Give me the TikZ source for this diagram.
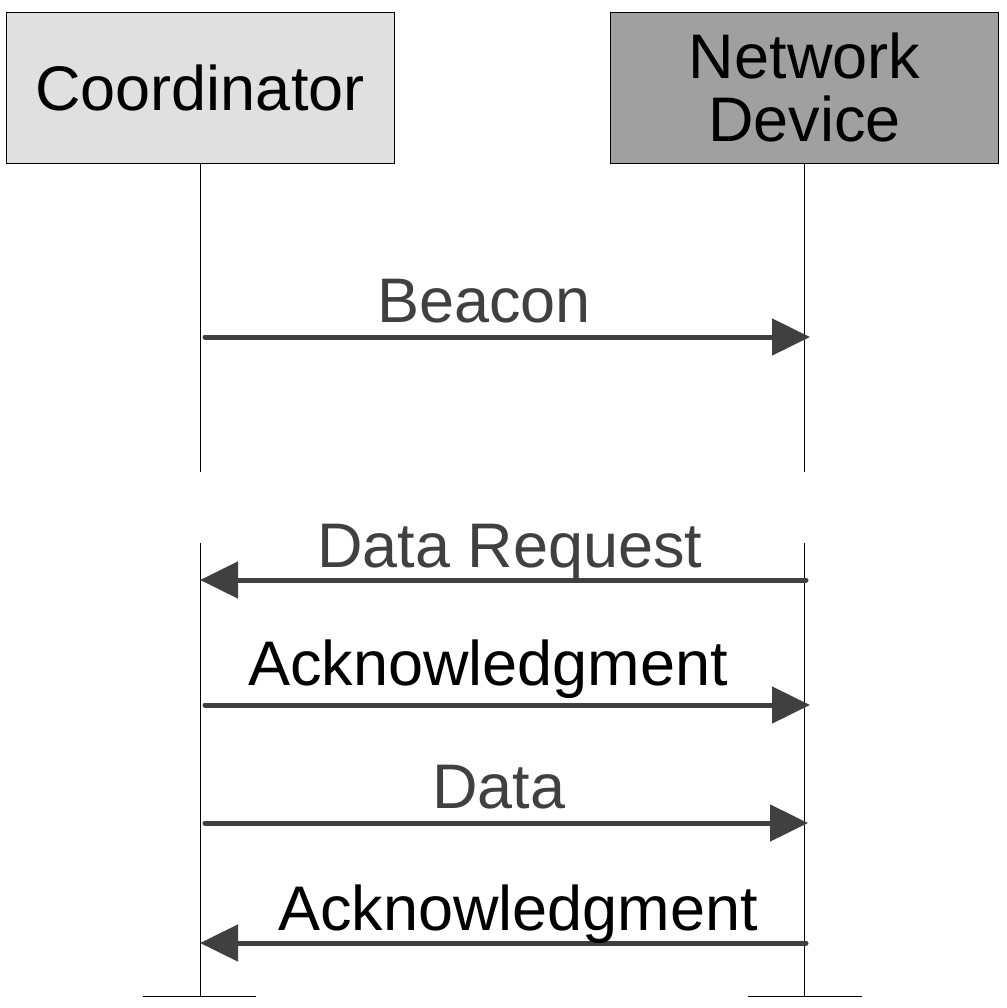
\documentclass[tikz,border=0pt]{standalone}
\usepackage{fontspec}
\setmainfont{Liberation Sans}
\usetikzlibrary{arrows.meta}
\definecolor{msg}{HTML}{404040}
\definecolor{boxA}{HTML}{E0E0E0}
\definecolor{boxB}{HTML}{A0A0A0}
\begin{document}
\begin{tikzpicture}[x=1pt,y=-1pt,
  actor/.style={draw=black,line width=0.8pt,minimum width=388pt,minimum height=151pt,inner sep=0pt,align=center,font=\fontsize{63}{63}\selectfont},
  life/.style={draw=black,line width=1pt},
  msgline/.style={draw=msg,line width=5pt,line cap=round,-{Triangle[length=38pt,width=36pt]}},
  lbl/.style={anchor=base,inner sep=0pt,font=\fontsize{63}{63}\selectfont}]
\useasboundingbox (0,0) rectangle (1006,1008);
\node[actor,fill=boxA] (coord) at (200,87.5) {Coordinator};
\node[actor,fill=boxB] (dev) at (804.5,87.5) {Network\\Device};
% lifelines
\coordinate (c1) at (200,163);
\coordinate (c2) at (200,472);
\coordinate (c3) at (200,543);
\coordinate (c4) at (200,996);
\coordinate (d1) at (804,163);
\coordinate (d2) at (804,472);
\coordinate (d3) at (804,543);
\coordinate (d4) at (804,996);
\draw[life] (c1) -- (c2);
\draw[life] (c3) -- (c4);
\draw[life] (d1) -- (d2);
\draw[life] (d3) -- (d4);
\coordinate (cl) at (143,996);
\coordinate (cr) at (256,996);
\coordinate (dl) at (748,996);
\coordinate (dr) at (862,996);
\draw[life] (cl) -- (cr);
\draw[life] (dl) -- (dr);
% messages
\coordinate (b1) at (205,337); \coordinate (b2) at (810,337);
\draw[msgline] (b1) -- (b2);
\node[lbl,text=msg] (lb) at (484,322) {Beacon};
\coordinate (r1) at (806,580); \coordinate (r2) at (200,580);
\draw[msgline] (r1) -- (r2);
\node[lbl,text=msg] (lr) at (510,567) {Data Request};
\coordinate (a1) at (205,705); \coordinate (a2) at (810,705);
\draw[msgline] (a1) -- (a2);
\node[lbl,text=black] (la) at (488,685) {Acknowledgment};
\coordinate (e1) at (205,823); \coordinate (e2) at (808,823);
\draw[msgline] (e1) -- (e2);
\node[lbl,text=msg] (le) at (499,808) {Data};
\coordinate (k1) at (806,943); \coordinate (k2) at (200,943);
\draw[msgline] (k1) -- (k2);
\node[lbl,text=black] (lk) at (518,930) {Acknowledgment};
\end{tikzpicture}
\end{document}
